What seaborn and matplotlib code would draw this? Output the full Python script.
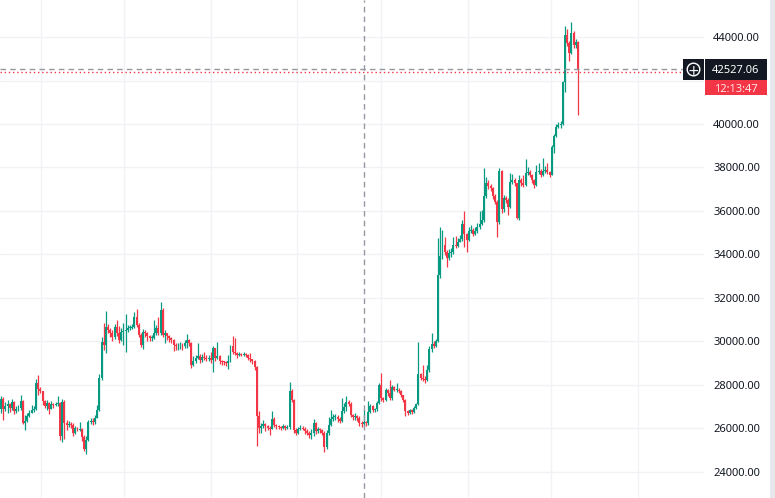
import numpy as np
import matplotlib
matplotlib.use("Agg")
import matplotlib.pyplot as plt
from matplotlib.patches import Rectangle, Circle
import seaborn as sns

# candle data (open = previous close)
first_open = 26900
close = [
    27350, 26900, 27000, 27100, 26950, 27200, 26800, 26900, 26950, 27250, 26260, 26350, 26550, 26700, 26850, 26900,
    28070, 27800, 27700, 27250, 27000, 27150, 26900, 27100, 27050, 27100, 27150, 25650, 27200, 26260, 26150, 26200,
    26150, 25800, 26000, 25930, 25980, 25600, 25030, 25450, 26300, 26350, 26280, 26450, 26850, 28300,
    29950, 29850, 30680, 30520, 30370, 30200, 30680, 30370, 30060, 30450, 30470, 30520, 30600, 30620, 30680, 31140,
    30750, 30290, 29830, 30440, 30370, 30220, 30140, 30140, 30370, 30600, 30370, 31440, 30290, 30370, 30220, 30140,
    30060, 29830, 29760, 29760, 29800, 29760, 29900, 30060, 29930, 28910, 29100, 29250, 29340, 29140, 29290, 29250,
    29200, 29250, 29140, 29680, 29220, 29300, 29070, 29050, 29030, 28990, 29070, 29760, 29520, 29450, 29370, 29400,
    29370, 29400, 29370, 29220, 29170, 29070, 28800, 26560,
    26000, 26100, 26180, 26120, 26000, 25950, 26430, 26150, 26100, 26060, 26000, 26080, 26000, 26050, 27720, 27300,
    25920, 25780, 25950, 26030, 25980, 25870, 25800, 25700, 25800, 26230, 25850, 25950, 25900, 25800, 25130, 25800,
    26150, 26410, 26500, 26530, 26420, 26350, 26800, 26990, 27220, 27120, 26610, 26530, 26550, 26480, 26230, 26200,
    26300, 26230, 26750, 27000, 26850, 26870, 27150, 27990, 27380, 27300, 27760, 27610, 27380, 27915, 27760, 27780,
    27690, 27530, 27300, 26770, 26720, 26840, 26760, 26920, 27100, 28500,
    28300, 28250, 28200, 28680, 29630, 29870, 29800, 29990, 33050, 33930, 34430, 34130, 33850, 34050, 34130, 34430,
    34400, 34580, 34690, 35400, 34940, 34660, 35080, 35120, 34940, 35080, 35250, 35400, 35580, 36690, 37300, 37150,
    37040, 36690, 36430, 35500, 37840, 36070, 36580, 36500, 36200, 37350, 37420, 37270, 35660, 37420, 37270, 37200,
    37730, 37810, 37650, 37420, 37190, 37810, 37820, 37650, 37840, 37900, 37800, 37650, 38960, 39450, 39880, 39950,
    40000, 41950, 44090, 43710, 43250, 44170, 43630, 43790, 42527.06,
]
high = [
    27500, 27450, 27200, 27300, 27150, 27350, 27250, 27000, 27050, 27550, 27300, 26600, 26700, 26850, 27050, 27000,
    28260, 28450, 27900, 27700, 27300, 27300, 27200, 27250, 27150, 27200, 27500, 27200, 27350, 27300, 26400, 26350,
    26300, 26250, 26100, 26050, 26300, 26000, 25700, 25650, 26400, 26450, 26450, 26600, 27050, 28500,
    30200, 30830, 31400, 30800, 30600, 30500, 30800, 30980, 30700, 30600, 30830, 31260, 30750, 30750, 30800, 31370,
    31490, 30850, 30400, 30550, 30500, 30450, 30300, 30300, 30980, 30750, 31130, 31800, 31550, 30500, 30400, 30300,
    30200, 30100, 29900, 29900, 29950, 29900, 30050, 30350, 30100, 29950, 29300, 29350, 29900, 29400, 29400, 29500,
    29350, 29350, 29520, 29800, 29700, 29980, 29350, 29150, 29100, 29100, 29370, 29850, 30220, 30140, 29500, 29500,
    29480, 29500, 29450, 29400, 29450, 29200, 29150, 28850,
    26800, 26260, 26400, 26250, 26150, 26100, 26800, 26500, 26200, 26150, 26100, 26200, 26150, 26150, 28120, 27800,
    27350, 26000, 26050, 26150, 26100, 26050, 25950, 25850, 25950, 26420, 26300, 26050, 26000, 25950, 25850, 25900,
    26500, 26840, 26650, 26650, 26600, 26500, 27370, 27150, 27480, 27300, 27200, 26650, 26700, 26600, 26550, 26350,
    26840, 26350, 27230, 27100, 27050, 26950, 27250, 28070, 28530, 27450, 27850, 27800, 28220, 28000, 27950, 28100,
    27850, 27750, 27550, 27350, 26850, 26900, 26900, 27000, 27150, 29985,
    28550, 28910, 28400, 28910, 29800, 30400, 30000, 30100, 34740, 35280, 35120, 34780, 34200, 34250, 34300, 34820,
    34850, 34750, 34900, 35580, 36000, 35000, 35250, 35350, 35200, 35250, 35450, 36000, 36050, 37960, 37550, 37400,
    37250, 37100, 36800, 36500, 37960, 37900, 36750, 36700, 36600, 37730, 37700, 37500, 37300, 37650, 37500, 37650,
    38370, 38000, 37900, 37700, 37450, 38100, 38190, 37950, 38420, 38050, 38200, 37850, 39050, 39550, 40000, 40100,
    40150, 42000, 44500, 44350, 43800, 44700, 44300, 43900, 43800,
]
low = [
    26700, 26400, 26800, 26700, 26750, 26850, 26650, 26700, 26800, 26850, 26200, 25900, 26300, 26500, 26700, 26750,
    26850, 27550, 27600, 27050, 26950, 26850, 26650, 26900, 26950, 27000, 27000, 25450, 25350, 25500, 25900, 26050,
    26000, 25650, 25750, 25850, 25850, 25400, 24950, 24820, 25400, 26200, 26150, 26200, 26450, 26800,
    28200, 29600, 29450, 30400, 30200, 30000, 30100, 30250, 29900, 30000, 29820, 29500, 30450, 30500, 30550, 30600,
    30650, 30200, 29750, 29650, 30200, 30000, 30000, 30000, 30100, 30300, 30300, 30300, 30200, 29900, 30050, 29950,
    29900, 29530, 29600, 29600, 29650, 29600, 29700, 29700, 29800, 28750, 28850, 29000, 29200, 29000, 29050, 29150,
    29100, 29100, 29000, 28600, 29100, 29200, 28950, 28900, 28900, 28850, 28720, 29050, 29400, 29350, 29250, 29300,
    29300, 29300, 29280, 29150, 29050, 28950, 28700, 25160,
    25770, 25800, 26000, 25850, 25900, 25700, 25950, 26050, 25950, 25950, 25900, 25950, 25900, 25950, 25970, 27200,
    25800, 25700, 25750, 25900, 25900, 25750, 25700, 25550, 25500, 25650, 25750, 25800, 25800, 25700, 24900, 25050,
    25700, 26100, 26350, 26400, 26300, 26250, 26300, 26700, 26800, 27000, 26500, 26400, 26400, 26350, 26100, 26050,
    26100, 26100, 26150, 26700, 26750, 26750, 26800, 27100, 27250, 27200, 27250, 27500, 27300, 27300, 27700, 27650,
    27600, 27450, 27200, 26540, 26600, 26650, 26650, 26700, 26900, 27050,
    28200, 28150, 28100, 28150, 28600, 29500, 29700, 29750, 29950, 32900, 33800, 33950, 33400, 33750, 33900, 34000,
    34300, 34350, 34550, 34600, 34350, 34130, 34600, 35000, 34850, 34900, 35000, 35150, 35350, 35500, 36600, 37000,
    36900, 36550, 36300, 34810, 35400, 35900, 35950, 36350, 35800, 36150, 37250, 37150, 35650, 35600, 37150, 37100,
    37150, 37650, 37550, 37300, 37050, 37150, 37700, 37550, 37600, 37750, 37700, 37550, 37650, 38650, 39400, 39800,
    39800, 39950, 41490, 43600, 42900, 43200, 43500, 43500, 40413,
]
last_price = 42527.06
countdown = "12:13:47"
price_ticks = [24000, 26000, 28000, 30000, 32000, 34000, 36000, 38000, 40000, 42000, 44000]
# the 42000 label sits under the last-price badge, so it is left blank
price_labels = ["24000.00", "26000.00", "28000.00", "30000.00", "32000.00", "34000.00",
                "36000.00", "38000.00", "40000.00", "", "44000.00"]

c = np.array(close, dtype=float)
o = np.concatenate([[first_open], c[:-1]])
h = np.maximum(np.array(high, dtype=float), np.maximum(o, c))
l = np.minimum(np.array(low, dtype=float), np.minimum(o, c))
n = len(c)
xs = np.arange(n)

GREEN = "#089981"
RED = "#F23645"
colors = np.where(c >= o, GREEN, RED)

sns.set_theme(style="white")
plt.rcParams["font.family"] = ["Noto Sans", "DejaVu Sans"]

W, H = 775, 498
fig = plt.figure(figsize=(W / 100, H / 100), dpi=100)
fig.patch.set_facecolor("white")
ax = fig.add_axes([0, 0, 704 / W, 1])
ax.set_facecolor("white")

# pixel layout: first candle at px 1, last at px 578
step = (578 - 1) / (n - 1)
def px_to_x(p):
    return (p - 1) / step

ax.set_xlim(px_to_x(0), px_to_x(704))
ax.set_ylim(22788, 45705)

# grid
vgrid_px = [41, 124, 211, 297, 381, 468, 551, 638]
ax.set_xticks([px_to_x(p) for p in vgrid_px])
ax.set_xticklabels([])
ax.set_yticks(price_ticks)
ax.set_yticklabels(price_labels)
ax.yaxis.tick_right()
ax.tick_params(axis="both", length=0)
ax.tick_params(axis="y", pad=6.5, labelsize=8, labelcolor="#131722")
ax.grid(True, color="#F0F2F5", lw=1)
ax.set_axisbelow(True)
sns.despine(ax=ax, left=True, bottom=True, right=True, top=True)

# candles
min_h = 45
body_h = np.maximum(np.abs(c - o), min_h)
body_b = np.minimum(o, c)
ax.vlines(xs, l, h, colors=colors, lw=0.9, zorder=2)
ax.bar(xs, body_h, bottom=body_b, width=0.9, color=colors, linewidth=0, zorder=3)

# crosshair + price line
ax.axvline(px_to_x(364), color="#9598A1", lw=1, dashes=(4, 3), zorder=4)
ax.axhline(last_price - 10, color="#9598A1", lw=1, dashes=(4, 3), zorder=4)
ax.axhline(last_price - 150, color=RED, lw=1, dashes=(1, 2), zorder=4)

# overlay widgets in pixel coordinates
tr = fig.dpi_scale_trans
def rect(x0, y0, x1, y1, color):
    fig.patches.append(Rectangle((x0 / 100, (H - y1) / 100), (x1 - x0) / 100, (y1 - y0) / 100,
                                 transform=tr, facecolor=color, edgecolor="none", zorder=5))

rect(770, 0, 775, H, "#E6E8EE")
rect(683, 59, 704, 80, "#131722")
fig.patches.append(Circle((693.5 / 100, (H - 69.5) / 100), 6.3 / 100, transform=tr,
                          facecolor="none", edgecolor="white", lw=1.0, zorder=6))
fig.text(693.5 / W, 1 - 69.5 / H, "+", color="white", fontsize=10, ha="center", va="center_baseline",
         family="DejaVu Sans", zorder=7)
rect(705, 59, 767, 80, "#131722")
rect(705, 80, 767, 95.5, RED)
fig.text(736 / W, 1 - 73 / H, f"{last_price:.2f}", color="white", fontsize=8, fontweight="bold",
         ha="center", va="baseline", zorder=7)
fig.text(736 / W, 1 - 91.5 / H, countdown, color="#FFE3E6", fontsize=8,
         ha="center", va="baseline", zorder=7)

fig.savefig("out.png", dpi=100, facecolor="white")
